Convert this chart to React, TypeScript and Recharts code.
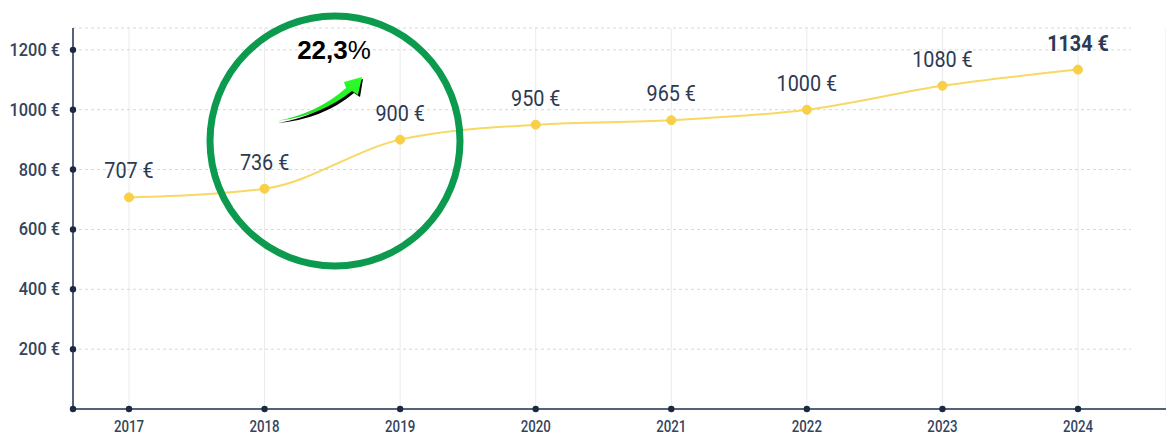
import React from 'react';
import { LineChart, Line, XAxis, YAxis, CartesianGrid, LabelList } from 'recharts';

const years = ['2017', '2018', '2019', '2020', '2021', '2022', '2023', '2024'];
const values = [707, 736, 900, 950, 965, 1000, 1080, 1134];
const yTicks = [0, 200, 400, 600, 800, 1000, 1200];
const growthLabel = '22,3';

const data = years.map((y, i) => ({ year: y, value: values[i] }));

const NAVY = '#1b2a41';
const AXIS = '#55637a';
const TEXT = '#34445c';
const FONT = "Roboto, sans-serif";

const YTick = (props: any) => {
  const { x, y, payload } = props;
  return (
    <g>
      <circle cx={x + 13} cy={y} r={3.2} fill={NAVY} />
      {payload.value !== 0 && (
        <text
          transform={`translate(${x},${y + 6}) scale(0.86,1)`}
          textAnchor="end"
          fontSize={19}
          fontWeight={500}
          fill={TEXT}
          fontFamily={FONT}
        >
          {payload.value} €
        </text>
      )}
    </g>
  );
};

const XTick = (props: any) => {
  const { x, y, payload } = props;
  return (
    <g>
      <circle cx={x} cy={y} r={3.2} fill={NAVY} />
      <text
        transform={`translate(${x},${y + 23}) scale(0.78,1)`}
        textAnchor="middle"
        fontSize={17}
        fontWeight={500}
        fill={TEXT}
        fontFamily={FONT}
      >
        {payload.value}
      </text>
    </g>
  );
};

const PointLabel = (props: any) => {
  const { x, y, value, index } = props;
  const last = index === values.length - 1;
  return (
    <text
      transform={`translate(${x},${y - 19}) scale(0.9,1)`}
      textAnchor="middle"
      fontSize={22}
      fontWeight={last ? 700 : 400}
      fill="#2c3a52"
      fontFamily={FONT}
    >
      {value} €
    </text>
  );
};

export default function App() {
  return (
    <div style={{ position: 'absolute', left: 0, top: 0, width: 1166, height: 437 }}>
      <LineChart
        width={1166}
        height={437}
        data={data}
        margin={{ top: 28, right: 0, bottom: 0, left: 0 }}
      >
        <CartesianGrid vertical={true} horizontal={false} stroke="#ebebeb" />
        <CartesianGrid
          vertical={false}
          horizontal={true}
          stroke="#d8d8d8"
          strokeDasharray="3 3"
          x={73}
          width={1058}
        />
        <XAxis
          dataKey="year"
          padding={{ left: 56, right: 88 }}
          axisLine={{ stroke: AXIS, strokeWidth: 2 }}
          tickLine={false}
          tickSize={0}
          tickMargin={0}
          height={28}
          tick={<XTick />}
          interval={0}
        />
        <YAxis
          domain={[0, 1273]}
          ticks={yTicks}
          interval={0}
          width={73}
          axisLine={{ stroke: AXIS, strokeWidth: 2 }}
          tickLine={false}
          tickSize={0}
          tickMargin={13}
          tick={<YTick />}
        />
        <Line
          type="monotone"
          dataKey="value"
          stroke="#f8d862"
          strokeWidth={2}
          dot={{ r: 4.5, fill: '#f7d048', stroke: '#f7d048', strokeWidth: 1 }}
          isAnimationActive={false}
        >
          <LabelList dataKey="value" content={<PointLabel />} />
        </Line>
      </LineChart>
      <svg
        width={1166}
        height={437}
        style={{ position: 'absolute', left: 0, top: 0, pointerEvents: 'none' }}
      >
        <defs>
          <linearGradient id="arrowGrad" x1="0" y1="1" x2="1" y2="0">
            <stop offset="0%" stopColor="#1fd61f" />
            <stop offset="100%" stopColor="#2bff2b" />
          </linearGradient>
        </defs>
        <circle cx={335} cy={141} r={125} fill="none" stroke="#0c9b4e" strokeWidth={7} />
        <text x={334} y={59} textAnchor="middle" fontFamily="'Liberation Sans', Arial, sans-serif" fontSize={26} fill="#000">
          <tspan fontWeight={700}>{growthLabel}</tspan>
          <tspan fontWeight={400}>%</tspan>
        </text>
        <path
          d="M 278 123 Q 320 116 348 90 L 346 84 L 363 79 L 360 97 L 354 93 Q 323 119 278 123 Z"
          fill="#000"
        />
        <path
          d="M 277 121 Q 318 113 346 88 L 344 82 L 362 77 L 358 95 L 352 91 Q 321 116 277 121 Z"
          fill="url(#arrowGrad)"
        />
      </svg>
    </div>
  );
}
